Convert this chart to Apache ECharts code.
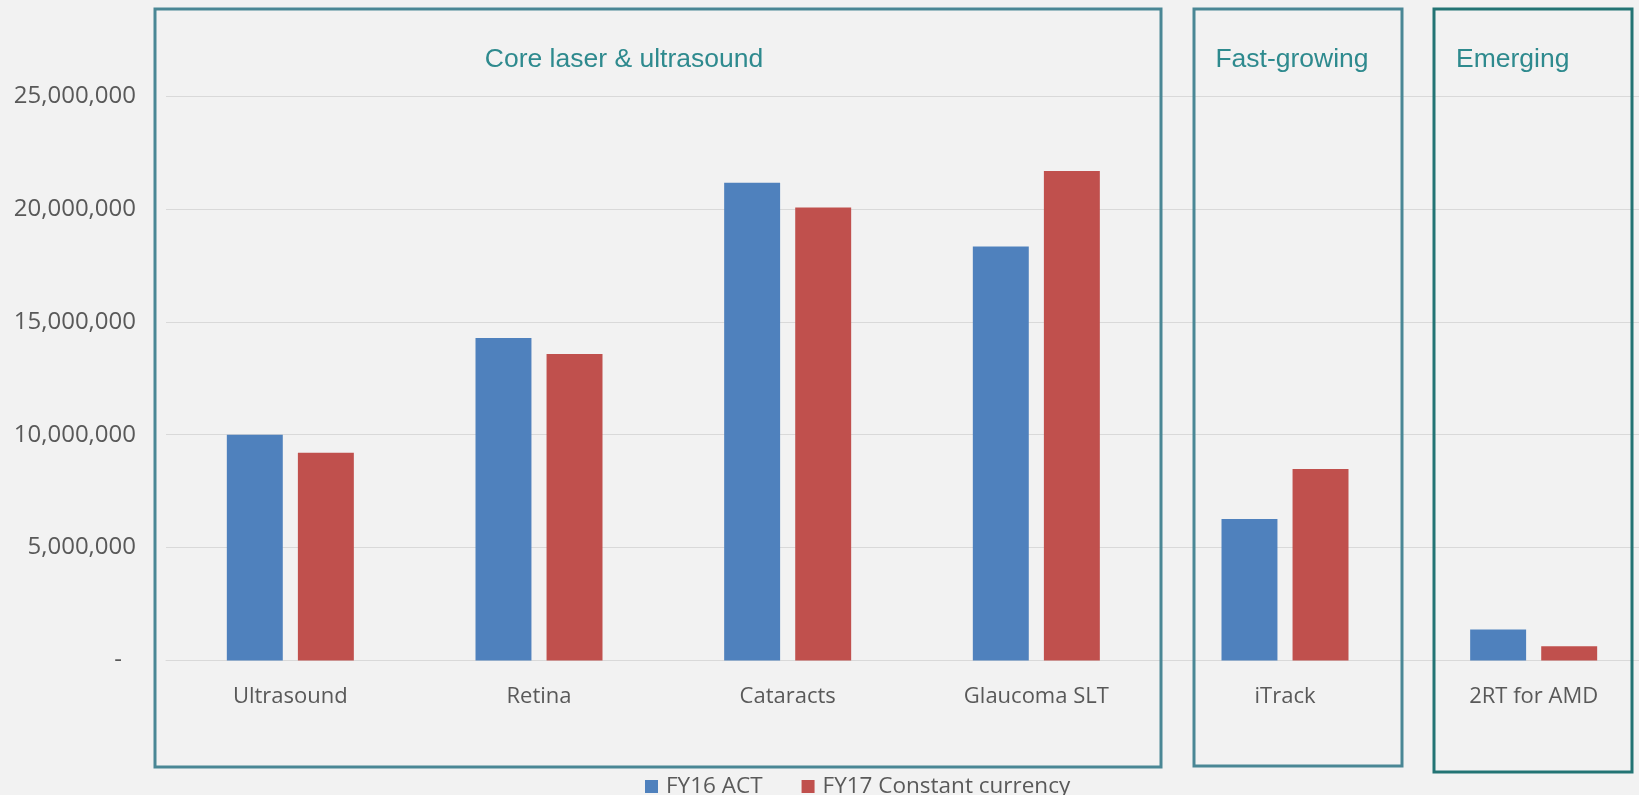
<!DOCTYPE html>
<html>
<head>
<meta charset="utf-8">
<title>Revenue by product line</title>
<script src="https://cdn.jsdelivr.net/npm/echarts@6/dist/echarts.min.js"></script>
<style>
  html, body { margin: 0; padding: 0; background: #F2F2F2; overflow: hidden; }
  /* the plot runs slightly past the right edge of the page, so the canvas is wider than the window */
  #chart { width: 1664px; height: 795px; }
</style>
</head>
<body>
<div id="chart"></div>
<script>
// Product lines along the category axis
const categories = ['Ultrasound', 'Retina', 'Cataracts', 'Glaucoma SLT', 'iTrack', '2RT for AMD'];

// Revenue per product line
const fy16Act = [10000000, 14280000, 21160000, 18330000, 6270000, 1370000];
const fy17ConstantCurrency = [9200000, 13570000, 20060000, 21680000, 8480000, 630000];

const seriesNames = ['FY16 ACT', 'FY17 Constant currency'];

// Value axis ticks
const yTicks = [0, 5000000, 10000000, 15000000, 20000000, 25000000];

// Product-line groupings drawn as framed panels
const groupTitles = ['Core laser & ultrasound', 'Fast-growing', 'Emerging'];

// Panel frames and title anchors (pixels)
const panelLayout = [
  { x: 155, y: 9, w: 1006, h: 758, color: '#4A8795', titleX: 624, align: 'center' },
  { x: 1194, y: 9, w: 208, h: 757, color: '#4A8795', titleX: 1292, align: 'center' },
  { x: 1434, y: 9, w: 198, h: 763, color: '#237474', titleX: 1456, align: 'left' }
];

const labelFont = '"Open Sans", "Noto Sans", sans-serif';

const chart = echarts.init(document.getElementById('chart'), null, { renderer: 'canvas' });

const graphics = [];
panelLayout.forEach((p, i) => {
  graphics.push({
    type: 'rect',
    shape: { x: p.x, y: p.y, width: p.w, height: p.h },
    style: { fill: 'none', stroke: p.color, lineWidth: 3 },
    z: 10
  });
  graphics.push({
    type: 'text',
    x: p.titleX,
    y: 60,
    style: {
      text: groupTitles[i],
      fill: '#2E8A8E',
      font: '26.5px "Liberation Sans", Arial, sans-serif',
      textAlign: p.align,
      textVerticalAlign: 'middle'
    },
    z: 10
  });
});

chart.setOption({
  backgroundColor: '#F2F2F2',
  animation: false,
  grid: { left: 166, top: 96, width: 1492, height: 564.5, containLabel: false },
  legend: {
    data: seriesNames,
    left: 645,
    top: 775,
    padding: 0,
    icon: 'rect',
    itemWidth: 13,
    itemHeight: 13,
    itemGap: 39,
    textStyle: { color: '#595959', fontSize: 22.5, fontFamily: labelFont, padding: [0, 0, 0, 3] }
  },
  xAxis: {
    type: 'category',
    data: categories,
    axisLine: { show: true, lineStyle: { color: '#D9D9D9', width: 1 } },
    axisTick: { show: false },
    axisLabel: { color: '#595959', fontSize: 22, fontFamily: labelFont, margin: 25, interval: 0 }
  },
  yAxis: {
    type: 'value',
    min: yTicks[0],
    max: yTicks[yTicks.length - 1],
    interval: yTicks[1] - yTicks[0],
    axisLine: { show: false },
    axisTick: { show: false },
    splitLine: { lineStyle: { color: '#D9D9D9', width: 1 } },
    axisLabel: {
      color: '#595959',
      fontSize: 24,
      fontFamily: labelFont,
      margin: 30,
      formatter: v => v === 0 ? '{z|-}' : v.toLocaleString('en-US'),
      rich: { z: { fontSize: 24, fontFamily: labelFont, color: '#595959', padding: [0, 14, 0, 0] } }
    }
  },
  series: [
    {
      name: seriesNames[0],
      type: 'bar',
      data: fy16Act,
      barWidth: '22.5%',
      barGap: '27%',
      itemStyle: { color: '#4F81BD' }
    },
    {
      name: seriesNames[1],
      type: 'bar',
      data: fy17ConstantCurrency,
      barWidth: '22.5%',
      barGap: '27%',
      itemStyle: { color: '#C0504D' }
    }
  ],
  graphic: graphics
});
</script>
</body>
</html>
